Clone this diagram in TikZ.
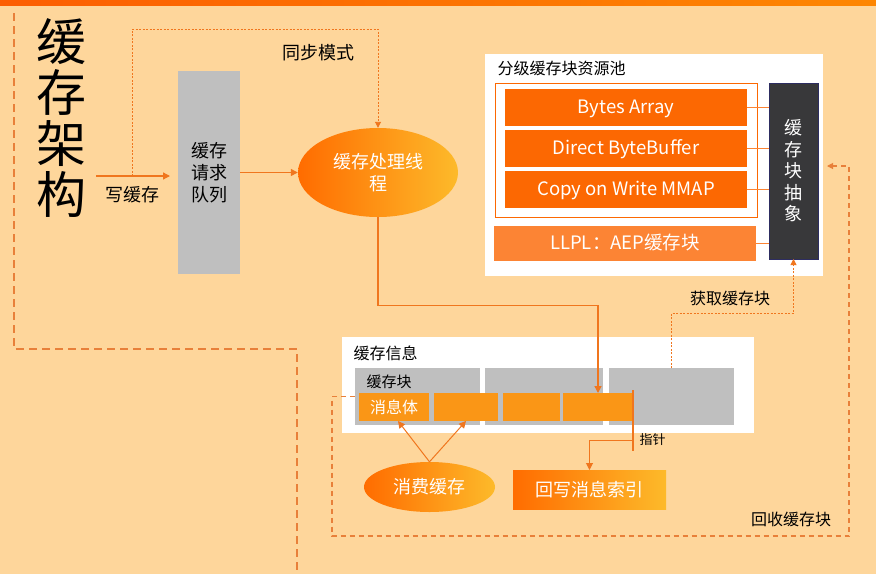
\documentclass[tikz,border=0pt]{standalone}
\usepackage{fontspec}
\setmainfont{Noto Sans CJK SC}
\usetikzlibrary{arrows.meta,shapes.geometric}
\definecolor{bgpeach}{RGB}{254,214,155}
\definecolor{barorange}{RGB}{252,104,2}
\definecolor{llplorange}{RGB}{252,132,52}
\definecolor{cellorange}{RGB}{250,150,22}
\definecolor{lineorange}{RGB}{240,118,30}
\definecolor{dashorange}{RGB}{232,128,58}
\definecolor{gradleft}{RGB}{255,108,0}
\definecolor{gradright}{RGB}{253,186,42}
\definecolor{blockgray}{RGB}{191,191,191}
\definecolor{darkbox}{RGB}{56,56,58}

\begin{document}
\begin{tikzpicture}[x=1pt, y=-1pt,
    box/.style={rectangle, inner sep=0pt, outer sep=0pt},
    bar/.style={box, fill=barorange, text=white, minimum width=242, minimum height=37, text height=13pt, text depth=1pt, font=\fontsize{18.5}{22}\selectfont},
    cell/.style={box, fill=cellorange, minimum height=28},
    block/.style={box, fill=blockgray, minimum height=57},
    panel/.style={box, fill=white},
    grad/.style={left color=gradleft, right color=gradright, text=white},
    lbl/.style={font=\fontsize{18}{22}\selectfont, align=center},
    small/.style={font=\fontsize{16}{20}\selectfont},
    flow/.style={-{Triangle[length=7pt,width=7pt]}, draw=lineorange, line width=1.3pt},
    sync/.style={-{Triangle[length=6pt,width=6pt]}, draw=lineorange, line width=0.9pt, dash pattern=on 2pt off 1.5pt},
    recycle/.style={-{Triangle[length=6pt,width=6pt]}, draw=dashorange, line width=1.1pt, dash pattern=on 5pt off 4pt},
    link/.style={draw=llplorange, line width=1pt}
  ]
  \useasboundingbox (0,0) rectangle (876,574);
  \fill[bgpeach] (0,0) rectangle (876,574);
  \shade[left color=barorange!90!red, right color=barorange!80!yellow] (0,0) rectangle (876,5);

  % outline of the section
  \draw[dashorange, line width=1.3pt, dash pattern=on 8pt off 5pt] (14,13) -- (14,349) -- (297,349) -- (297,574);
  \node[font=\fontsize{50}{51}\selectfont, align=center] (title) at (61,118) {缓\\存\\架\\构};

  % write path
  \node[box, fill=blockgray, minimum width=62, minimum height=203, lbl] (queue) at (209,172.5) {缓存\\请求\\队列};
  \node[ellipse, grad, inner sep=0pt, minimum width=160, minimum height=89, lbl] (proc) at (378,172.5) {缓存处理线\\程};
  \coordinate (writein) at (96,176);
  \coordinate (syncstart) at (132,176);
  \draw[flow, shorten >=8pt] (writein) -- (writein -| queue.west);
  \node[lbl] (writelbl) at (132,195) {写缓存};
  \draw[flow] (queue.east |- proc.west) -- (proc.west);
  \draw[sync] (syncstart) -- ++(0,-147) -| (proc.north);
  \node[lbl] (synclbl) at (318,53) {同步模式};

  % tiered pool
  \node[panel, minimum width=338, minimum height=222] (pool) at (654,165) {};
  \node[small, anchor=west] (pooltitle) at (494,68) {分级缓存块资源池};
  \node[box, draw=barorange, line width=0.8pt, minimum width=262, minimum height=134] (tier) at (626,150) {};
  \node[bar] (bytes) at (626,107.5) {Bytes Array};
  \node[bar] (direct) at (626,148.5) {Direct ByteBuffer};
  \node[bar] (cow) at (626,189.5) {Copy on Write MMAP};
  \node[bar, fill=llplorange, minimum width=262, minimum height=35] (llpl) at (625,243.5) {LLPL：AEP缓存块};
  \node[box, fill=darkbox, draw=darkbox!80!blue, text=white, minimum width=49, minimum height=176,
        font=\fontsize{18}{21.5}\selectfont, align=center] (abs) at (793.5,171) {缓\\存\\块\\抽\\象};
  \foreach \b in {bytes,direct,cow,llpl}
    \draw[link] (\b.east) -- (\b.east -| abs.west);

  % cache info
  \node[panel, minimum width=412, minimum height=96] (info) at (548,385) {};
  \node[small, anchor=west] (infotitle) at (350,353) {缓存信息};
  \node[block, minimum width=125] (blk1) at (417.5,396.5) {};
  \node[block, minimum width=118] (blk2) at (544,396.5) {};
  \node[block, minimum width=125] (blk3) at (671.5,396.5) {};
  \node[font=\fontsize{15}{18}\selectfont, anchor=west] (blklbl) at (363,382) {缓存块};
  \node[cell, minimum width=70, text=white, font=\fontsize{16}{20}\selectfont] (msg) at (394,407) {消息体};
  \node[cell, minimum width=64] (cell2) at (466,407) {};
  \node[cell, minimum width=57] (cell3) at (531.5,407) {};
  \node[cell, minimum width=70] (cell4) at (598,407) {};
  \draw[flow] (proc.south) -- ++(0,88) -| (cell4.north);

  % pointer and write-back
  \coordinate (ptrtop) at (633,390);
  \coordinate (ptrbot) at (633,451);
  \coordinate (ptrmid) at (633,440);
  \draw[lineorange, line width=1.5pt] (ptrtop) -- (ptrbot);
  \node[font=\fontsize{13}{16}\selectfont, anchor=west] (ptrlbl) at (636,440) {指针};
  \node[box, grad, minimum width=153, minimum height=39, lbl] (wb) at (589.5,489.5) {回写消息索引};
  \draw[flow, line width=1pt] (ptrmid) -| (wb.north);

  % consume
  \node[ellipse, grad, inner sep=0pt, minimum width=131, minimum height=50, lbl] (consume) at (429.5,487) {消费缓存};
  \draw[flow, line width=1pt] (consume.north) -- ([xshift=4pt]msg.south);
  \draw[flow, line width=1pt] (consume.north) -- (cell2.south);

  % fetch and recycle
  \draw[sync] (blk3.north) -- ++(0,-55) -| (abs.south);
  \node[small] (fetchlbl) at (730,298) {获取缓存块};
  \draw[recycle] (blk1.west) -| (332,536) -- (849,536) |- ([xshift=9pt,yshift=5pt]abs.east);
  \node[small] (recyclelbl) at (791,519) {回收缓存块};
\end{tikzpicture}
\end{document}
